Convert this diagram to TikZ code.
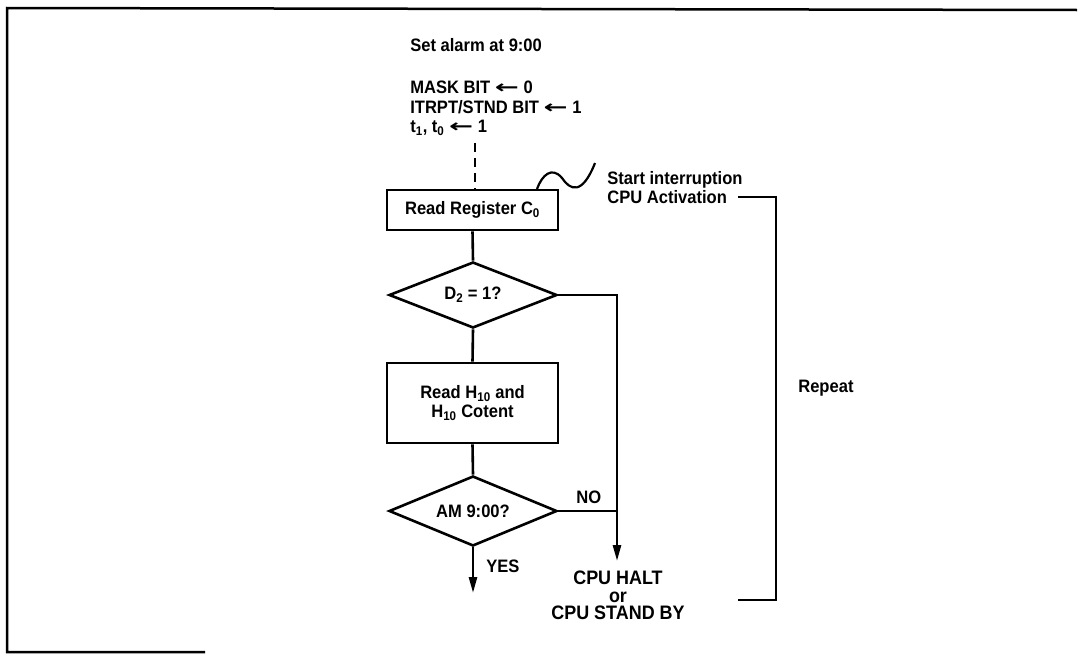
\documentclass[tikz,border=0pt]{standalone}
\usepackage{fontspec}
\setmainfont{Liberation Sans}[FakeStretch=0.92]
\newfontfamily\symf{DejaVu Sans}
\usetikzlibrary{shapes.geometric,arrows.meta}
\newcommand{\larr}{\scalebox{1.6}[1]{\symf\bfseries ←}}
\begin{document}
\begin{tikzpicture}[x=1pt,y=-1pt, line width=2.6pt,
  font=\bfseries\fontsize{18}{19.5}\selectfont,
  box/.style={draw, rectangle, minimum width=171pt, inner sep=0pt, align=center},
  dec/.style={draw, diamond, minimum width=168pt, inner sep=0pt, aspect=2.5},
  lbl/.style={inner sep=0pt, align=left},
  arr/.style={-{Triangle[length=16pt,width=8pt]}}]
\useasboundingbox (0,0) rectangle (1079,656);
% frame
\coordinate (f1) at (205,652);
\coordinate (f2) at (7,652);
\coordinate (f3) at (7,8);
\coordinate (f4) at (1077,10);
\draw[line width=2.5pt] (f1) -- (f2) -- (f3) -- (f4);
% texts
\node[lbl, anchor=west] (title) at (409,45) {Set alarm at 9:00};
\node[lbl, anchor=north west] (init) at (409,80) {MASK BIT \larr\ 0\\ITRPT/STND BIT \larr\ 1\\t\textsubscript{1}, t\textsubscript{0} \larr\ 1};
% boxes
\node[box, minimum height=40pt] (rr) at (472.5,210) {Read Register C\textsubscript{0}};
\node[dec, minimum height=66pt] (d1) at (473,295) {D\textsubscript{2} = 1?};
\node[box, minimum height=80pt] (rh) at (472.5,403) {Read H\textsubscript{10} and\\H\textsubscript{10} Cotent};
\node[dec, minimum height=70pt] (d2) at (473,511) {AM 9:00?};
% connectors
\coordinate (ds) at (475,143);
\draw[dash pattern=on 9pt off 6pt] (ds) -- (ds |- rr.north);
\draw (rr.south) -- (d1.north);
\draw (d1.south) -- (rh.north);
\draw (rh.south) -- (d2.north);
\coordinate (tip) at (617,561);
\draw[arr] (d1.east) -| (tip);
\draw (d2.east) -- (d2.east -| tip);
\node[lbl, anchor=west] (no) at (575,497) {NO};
\coordinate (yesend) at (473,593);
\draw[arr] (d2.south) -- (yesend);
\node[lbl, anchor=west] (yes) at (485,566) {YES};
\node[lbl, align=center, anchor=north, font=\bfseries\fontsize{19.5}{17.5}\selectfont] (halt) at (618,570) {CPU HALT\\or\\CPU STAND BY};
% wavy
\coordinate (w0) at (537,189);
\coordinate (w1) at (595,163);
\draw[line width=2.2pt] (w0) .. controls (542,175) and (552,166) .. (562,178) .. controls (570,190) and (582,196) .. (w1);
\node[lbl, anchor=north west] (start) at (606,170) {Start interruption\\CPU Activation};
% bracket
\coordinate (bt) at (738,197);
\coordinate (bb) at (738,600);
\draw (bt) -- (776,197) -- (776,600) -- (bb);
\node[lbl, anchor=west] (rep) at (797,388) {Repeat};
\end{tikzpicture}
\end{document}
